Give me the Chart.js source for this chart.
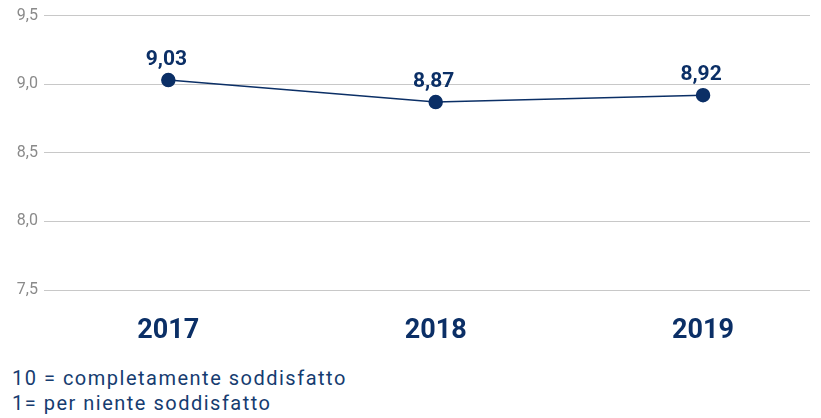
<!DOCTYPE html>
<html>
<head>
<meta charset="utf-8">
<script src="https://cdn.jsdelivr.net/npm/chart.js@4"></script>
<style>
  html, body { margin: 0; padding: 0; background: #fff; }
  body { width: 821px; height: 418px; overflow: hidden; position: relative; }
  #wrap { position: absolute; left: 0; top: 0; width: 821px; height: 360px; }
  .note { position: absolute; left: 12px; color: #163c70; font-family: Roboto, 'Noto Sans', sans-serif; font-size: 20px; letter-spacing: 1.5px; line-height: 24px; white-space: nowrap; }
</style>
</head>
<body>
<div id="wrap"><canvas id="c"></canvas></div>
<div class="note" style="top:366px">10 = completamente soddisfatto</div>
<div class="note" style="top:391px">1= per niente soddisfatto</div>
<script>
const years = ['2017', '2018', '2019'];
const scores = [9.03, 8.87, 8.92];
const yTicks = [7.5, 8.0, 8.5, 9.0, 9.5];

const NAVY = '#0b2f66';
const FONT = "Roboto, 'Noto Sans', sans-serif";
const fmt = v => v.toFixed(2).replace('.', ',');

// value labels above each point
const valueLabels = {
  id: 'valueLabels',
  afterDatasetsDraw(chart) {
    const ctx = chart.ctx;
    const meta = chart.getDatasetMeta(0);
    ctx.save();
    ctx.fillStyle = NAVY;
    ctx.font = 'bold 21px ' + FONT;
    ctx.textAlign = 'center';
    ctx.textBaseline = 'alphabetic';
    meta.data.forEach((pt, i) => {
      ctx.fillText(fmt(scores[i]), pt.x - 2, pt.y - 15);
    });
    ctx.restore();
  }
};

new Chart(document.getElementById('c'), {
  type: 'line',
  data: {
    datasets: [{
      data: scores.map((v, i) => ({ x: i, y: v })),
      borderColor: NAVY,
      borderWidth: 1.5,
      pointBackgroundColor: NAVY,
      pointBorderColor: NAVY,
      pointRadius: 6.5,
      tension: 0
    }]
  },
  options: {
    responsive: true,
    maintainAspectRatio: false,
    animation: false,
    layout: { padding: { top: 8, right: 11, left: 0, bottom: 0 } },
    plugins: { legend: { display: false }, tooltip: { enabled: false } },
    scales: {
      x: {
        type: 'linear',
        min: -0.465,
        max: 2.40,
        afterBuildTicks(scale) { scale.ticks = years.map((_, i) => ({ value: i })); },
        afterFit(scale) { scale.height = 70; },
        grid: { display: false, drawTicks: false },
        border: { display: false },
        ticks: {
          padding: 25,
          color: NAVY,
          font: { family: FONT, size: 27, weight: 'bold' },
          callback: v => years[v]
        }
      },
      y: {
        min: 7.5,
        max: 9.5,
        afterBuildTicks(scale) { scale.ticks = yTicks.map(v => ({ value: v })); },
        afterFit(scale) { scale.width = 44; },
        grid: { color: '#c8c8c8', lineWidth: 1, drawTicks: false },
        border: { display: false },
        ticks: {
          padding: 6,
          color: '#8a8a8a',
          font: { family: FONT, size: 16 },
          callback: v => v.toFixed(1).replace('.', ',')
        }
      }
    }
  },
  plugins: [valueLabels]
});
</script>
</body>
</html>
